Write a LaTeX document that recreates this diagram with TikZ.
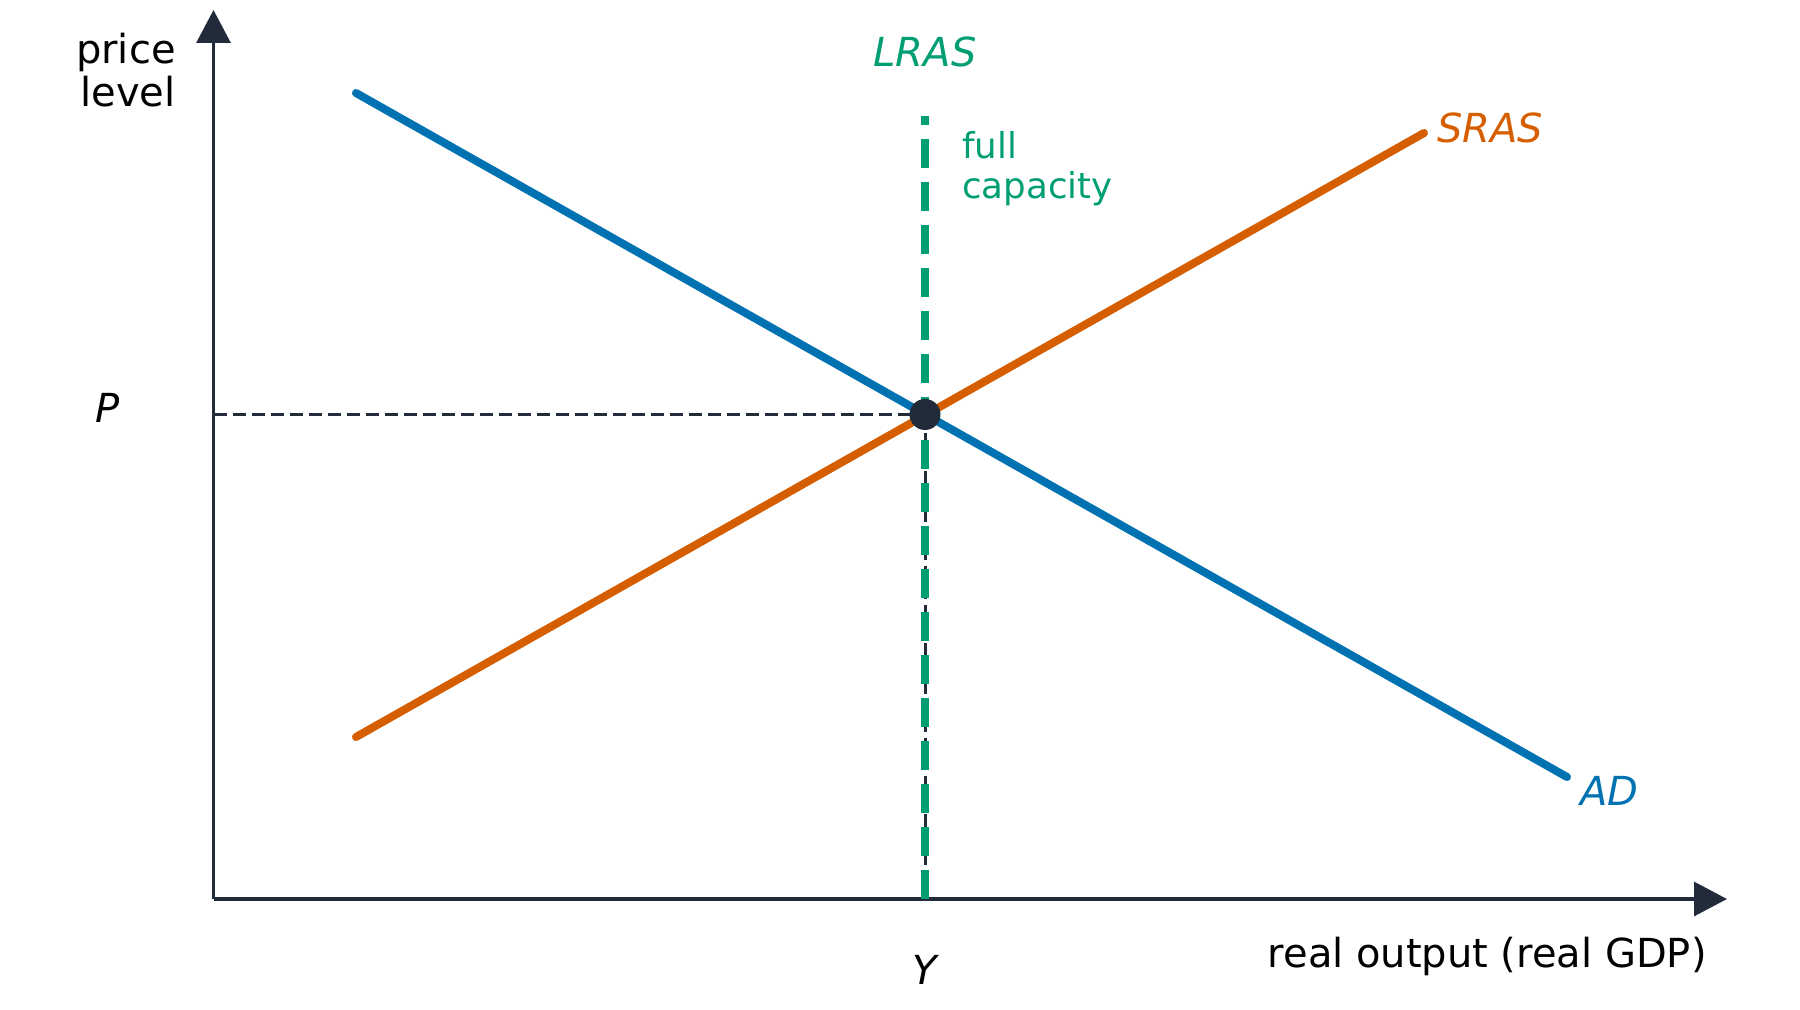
\documentclass[tikz,border=0pt]{standalone}
\usepackage{fontspec}
\setmainfont{DejaVu Sans}
\usepackage{xcolor}
\usetikzlibrary{arrows.meta}

\definecolor{axiscol}{HTML}{222B3A}
\definecolor{adcol}{HTML}{0072B2}
\definecolor{srascol}{HTML}{D55E00}
\definecolor{lrascol}{HTML}{009E73}

\begin{document}
\begin{tikzpicture}[x=0.5pt, y=-0.5pt, font=\fontsize{20}{22}\selectfont,
  axis/.style={draw=axiscol, line width=1.6pt, -{Triangle[length=16.5pt, width=17pt]}},
  curve/.style={line width=4pt, line cap=round},
  guide/.style={draw=axiscol, line width=1.5pt, dash pattern=on 6.5pt off 3pt},
  lab/.style={inner sep=0pt}]
\useasboundingbox (0,0) rectangle (1800,1010);
% axes
\coordinate (O) at (213.5,899);
\coordinate (ytop) at (213.5,10);
\coordinate (xend) at (1727,899);
\draw[axis] (O) -- (ytop);
\draw[axis] (O) -- (xend);
% equilibrium and curve ends
\coordinate (E) at (925,414.5);
\coordinate (ad1) at (356,93);
\coordinate (ad2) at (1567,777);
\coordinate (sr1) at (356,737);
\coordinate (sr2) at (1424,133);
\coordinate (lr) at (925,116);
\draw[guide] (O |- E) -- (E);
\draw[guide] (E) -- (E |- O);
\draw[curve, adcol] (ad1) -- (ad2);
\draw[curve, srascol] (sr1) -- (sr2);
\draw[lrascol, line width=3.6pt, dash pattern=on 14.5pt off 7pt] (E |- O) -- (lr);
\node[circle, fill=axiscol, inner sep=0pt, minimum size=15.5pt] (eq) at (E) {};
% labels
\node[lab, anchor=east, align=right, font=\fontsize{20}{21.8}\selectfont] (ylab) at (176,70) {price\\level};
\node[lab, anchor=east] (xlab) at (1707,956) {real output (real GDP)};
\node[lab, lrascol] (lrlab) at (925,52) {\itshape LRAS};
\node[lab, lrascol, anchor=west, align=left, font=\fontsize{17.8}{20}\selectfont] (full) at (962,168.5) {full\\capacity};
\node[lab, srascol, anchor=west] (srlab) at (1437,128) {\itshape SRAS};
\node[lab, adcol, anchor=west] (adlab) at (1580,791) {\itshape AD};
\node[lab] (plab) at (108,408) {\itshape P};
\node[lab] (ylab2) at (925,970) {\itshape Y};
\end{tikzpicture}
\end{document}
